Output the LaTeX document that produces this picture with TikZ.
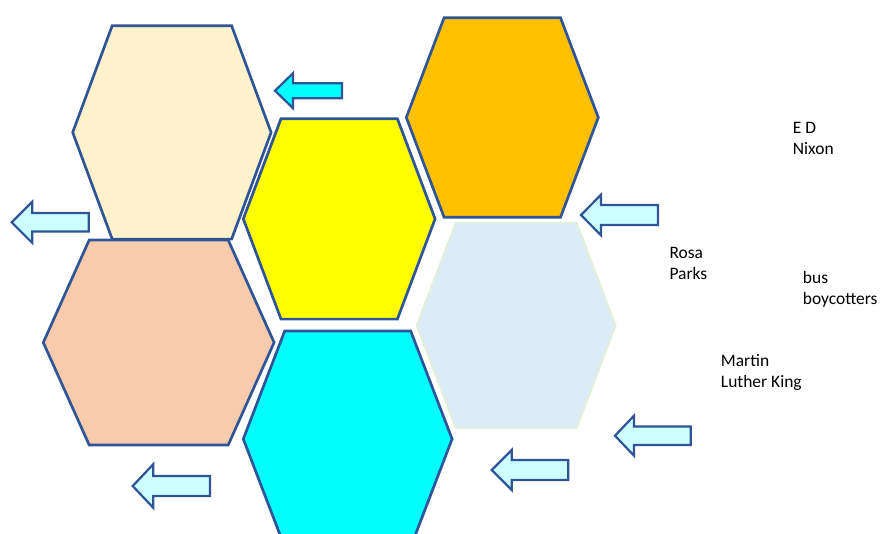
\documentclass[tikz,border=0pt]{standalone}
\usepackage{fontspec}
\usepackage{tikz}
\usetikzlibrary{positioning}
\newfontfamily\labelfont{Carlito}
\definecolor{hexline}{RGB}{47, 85, 151}
\definecolor{creamfill}{RGB}{255, 242, 204}
\definecolor{orangefill}{RGB}{255, 192, 0}
\definecolor{lemonfill}{RGB}{255, 255, 0}
\definecolor{mistfill}{RGB}{221, 235, 247}
\definecolor{mistline}{RGB}{226, 240, 217}
\definecolor{peachfill}{RGB}{248, 203, 173}
\definecolor{aquafill}{RGB}{0, 255, 255}
\definecolor{paleaqua}{RGB}{204, 255, 255}

\begin{document}
\begin{tikzpicture}[
			x=0.03cm, y=-0.03cm,
			hexbox/.style={draw=hexline, line width=2.3pt, line join=miter},
			arrowbox/.style={draw=hexline, line width=1.9pt, fill=paleaqua, line join=miter},
			personlabel/.style={font=\labelfont\fontsize{14.9}{17.5}\selectfont, align=left, anchor=base west, inner sep=0pt},
			pics/hexcell/.style n args={4}{code={
				\path[hexbox, #4] (-#1,0) -- (-#2,-#3) -- (#2,-#3) -- (#1,0) -- (#2,#3) -- (-#2,#3) -- cycle;
			}},
			pics/leftblock/.style n args={5}{code={
				\path[arrowbox, #5] (0,0) -- ++(#2,-#3) -- ++(0,#3-#4) -- ++(#1-#2,0) -- ++(0,2*#4) -- ++(#2-#1,0) -- ++(0,#3-#4) -- cycle;
			}}
		]
		\useasboundingbox (0,0) rectangle (881,533);
		\clip (0,0) rectangle (881,533);
		
		% honeycomb
		\pic (cream) at (171.9,132.4) {hexcell={99.2}{59.7}{106.7}{fill=creamfill}};
		\pic (orange) at (502.3,117.5) {hexcell={96}{58.2}{99.8}{fill=orangefill}};
		\pic (yellow) at (339.2,218.9) {hexcell={95.9}{58.2}{100.2}{fill=lemonfill}};
		\pic (mist) at (516.2,325.5) {hexcell={99.5}{60.4}{102.8}{fill=mistfill, draw=mistline, line width=1.6pt}};
		\pic (peach) at (158.7,342.5) {hexcell={115.4}{69.5}{102.5}{fill=peachfill}};
		\pic (aqua) at (347.7,439) {hexcell={104.4}{63}{108}{fill=aquafill}};
		
		% block arrows
		\pic (arrtop) at (275,90.7) {leftblock={67}{18}{17.5}{7.5}{fill=aquafill}};
		\pic (arrorange) at (581,215) {leftblock={77}{20}{20.3}{10}{}};
		\pic (arrleft) at (11.7,222.3) {leftblock={77}{20.6}{20.6}{9.2}{}};
		\pic (arrbottom) at (132.7,486) {leftblock={77.3}{20.6}{21.8}{10}{}};
		\pic (arrright) at (615,435.7) {leftblock={75.7}{19}{20}{9.2}{}};
		\pic (arrmid) at (491.7,470) {leftblock={76.6}{20}{20}{10}{}};
		
		% names (anchored on the last line)
		\node[personlabel] (nixon) at (792.7,154) {E D\\Nixon};
		\node[personlabel] (rosa) at (669.3,279.3) {Rosa\\Parks};
		\node[personlabel] (boycott) at (802.7,304) {bus\\boycotters};
		\node[personlabel] (king) at (720.7,387) {Martin\\Luther King};
		\end{tikzpicture}
\end{document}
